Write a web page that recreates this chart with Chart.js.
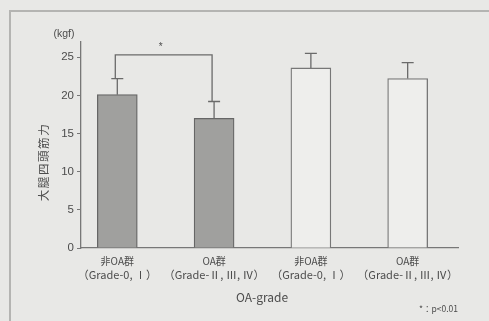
<!DOCTYPE html>
<html>
<head>
<meta charset="utf-8">
<script src="https://cdn.jsdelivr.net/npm/chart.js@4.4.1/dist/chart.umd.min.js"></script>
<style>
  html, body { margin: 0; padding: 0; background: #e8e8e6; }
  #wrap { position: relative; width: 489px; height: 321px; }
  canvas { display: block; }
</style>
</head>
<body>
<div id="wrap"><canvas id="c" width="489" height="321"></canvas></div>
<script>
// Group labels: group name and grade range
const groupNames = ['非OA群', 'OA群', '非OA群', 'OA群'];
const gradeNames = ['（Grade-0, Ⅰ）', '（Grade-Ⅱ, Ⅲ, Ⅳ）', '（Grade-0, Ⅰ）', '（Grade-Ⅱ, Ⅲ, Ⅳ）'];
// Mean quadriceps strength (kgf) and standard deviation
const means = [20.1, 17.0, 23.6, 22.2];
const sds = [2.1, 2.2, 1.9, 2.1];
// Shaded groups vs. open groups
const shaded = [true, true, false, false];
const yTicks = [0, 5, 10, 15, 20, 25];
// Significance bracket between groups 0 and 1
const sigPair = [0, 1];
const sigLevel = 25.3;

const INK = '#4c4c4c';
const JP = '"Noto Sans CJK JP", "Noto Sans", sans-serif';
const LAT = '"Liberation Sans", Arial, sans-serif';

const points = means.map((v, i) => ({ x: i, y: v }));

const overlay = {
  id: 'overlay',
  beforeDraw(chart) {
    const ctx = chart.ctx;
    ctx.save();
    ctx.fillStyle = '#e8e8e6';
    ctx.fillRect(0, 0, chart.width, chart.height);
    // frame
    ctx.strokeStyle = '#b4b4b2';
    ctx.lineWidth = 2;
    ctx.beginPath();
    ctx.moveTo(10, chart.height);
    ctx.lineTo(10, 11);
    ctx.lineTo(chart.width, 11);
    ctx.stroke();
    ctx.restore();
  },
  afterDatasetsDraw(chart) {
    const ctx = chart.ctx;
    const xs = chart.scales.x, ys = chart.scales.y;
    ctx.save();
    ctx.strokeStyle = '#6a6a6a';
    ctx.lineWidth = 1.3;
    // error bars
    means.forEach((m, i) => {
      const x = xs.getPixelForValue(i);
      const y0 = ys.getPixelForValue(m);
      const y1 = ys.getPixelForValue(m + sds[i]);
      ctx.beginPath();
      ctx.moveTo(x, y0);
      ctx.lineTo(x, y1);
      ctx.moveTo(x - 6, y1);
      ctx.lineTo(x + 6, y1);
      ctx.stroke();
    });
    // significance bracket
    const [a, b] = sigPair;
    const xa = xs.getPixelForValue(a) - 2, xb = xs.getPixelForValue(b) - 2;
    const yt = ys.getPixelForValue(sigLevel);
    ctx.beginPath();
    ctx.moveTo(xa, ys.getPixelForValue(means[a] + sds[a]));
    ctx.lineTo(xa, yt);
    ctx.lineTo(xb, yt);
    ctx.lineTo(xb, ys.getPixelForValue(means[b] + sds[b]));
    ctx.stroke();
    ctx.fillStyle = INK;
    ctx.font = '10px ' + LAT;
    ctx.textAlign = 'center';
    ctx.textBaseline = 'middle';
    ctx.fillText('*', (xa + xb) / 2 - 3, yt - 8);

    // grade range under each group name
    ctx.font = '11px ' + JP;
    gradeNames.forEach((g, i) => {
      ctx.fillText(g, xs.getPixelForValue(i), 275);
    });

    // unit label
    ctx.font = '10.5px ' + LAT;
    ctx.fillText('(kgf)', 64, 34);

    // y axis title
    ctx.save();
    ctx.translate(44, 162);
    ctx.rotate(-Math.PI / 2);
    ctx.font = '11.5px ' + JP;
    ctx.letterSpacing = '1.6px';
    ctx.fillText('大腿四頭筋力', 0, 0);
    ctx.restore();

    // x axis title
    ctx.font = '12px ' + JP;
    ctx.fillText('OA-grade', 262, 297);

    // significance note
    ctx.font = '8.5px ' + JP;
    ctx.textAlign = 'left';
    ctx.fillText('*：p<0.01', 419, 309);
    ctx.restore();
  }
};

new Chart(document.getElementById('c'), {
  type: 'bar',
  data: {
    datasets: [{
      data: points,
      backgroundColor: shaded.map(s => s ? '#a0a09e' : '#eeeeec'),
      borderColor: shaded.map(s => s ? '#666666' : '#777777'),
      borderWidth: 1.3,
      borderSkipped: 'bottom',
      barThickness: 40
    }]
  },
  options: {
    responsive: false,
    animation: false,
    devicePixelRatio: 1,
    layout: { padding: { left: 0, right: 31, top: 42, bottom: 0 } },
    plugins: { legend: { display: false }, tooltip: { enabled: false } },
    scales: {
      x: {
        type: 'linear',
        offset: false,
        min: -0.375,
        max: 3.52,
        afterBuildTicks(scale) {
          scale.ticks = groupNames.map((_, i) => ({ value: i }));
        },
        afterFit(scale) { scale.height = 73; },
        grid: { display: false, drawTicks: false },
        border: { display: true, color: '#777777', width: 1.3 },
        ticks: {
          autoSkip: false,
          maxRotation: 0,
          padding: 5,
          color: INK,
          font: { family: JP, size: 10, lineHeight: '16px' },
          callback: (v) => groupNames[v]
        }
      },
      y: {
        min: 0,
        max: 27,
        afterBuildTicks(scale) {
          scale.ticks = yTicks.map(v => ({ value: v }));
        },
        afterFit(scale) { scale.width = 81; },
        grid: { drawOnChartArea: false, drawTicks: true, tickLength: 4, color: '#777777' },
        border: { display: true, color: '#777777', width: 1.3 },
        ticks: {
          padding: 3,
          color: INK,
          font: { family: LAT, size: 11.5 }
        }
      }
    }
  },
  plugins: [overlay]
});
</script>
</body>
</html>
